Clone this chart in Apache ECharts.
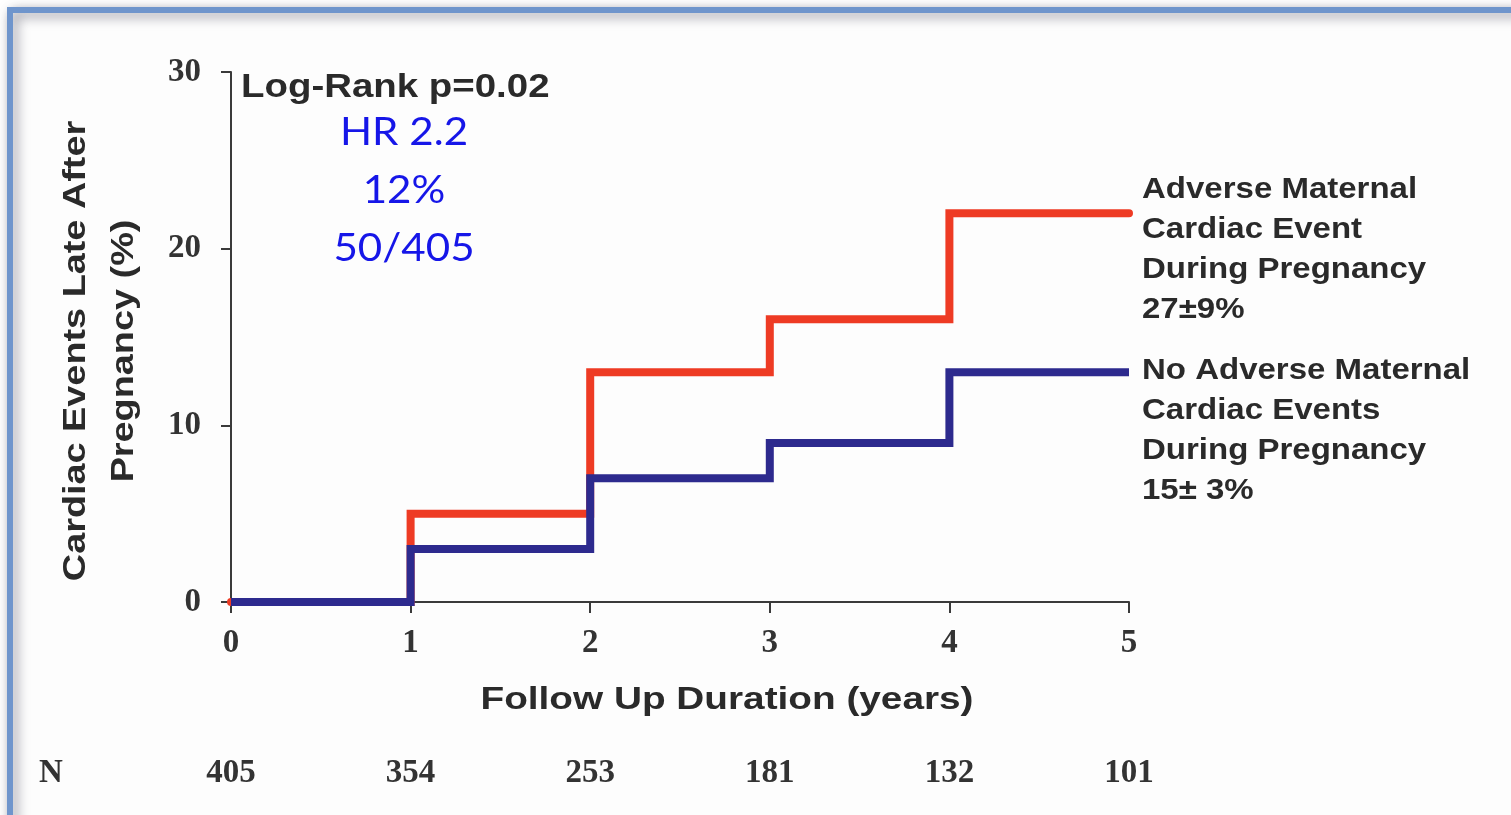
<!DOCTYPE html>
<html>
<head>
<meta charset="utf-8">
<style>
  html, body { margin: 0; padding: 0; background: #ffffff; }
  #chart { width: 1511px; height: 815px; }
</style>
<script src="https://cdn.jsdelivr.net/npm/echarts@6/dist/echarts.min.js"></script>
</head>
<body>
<div id="chart"></div>
<script>
// ---- data ----
const years = [0, 1, 2, 3, 4, 5];
const adverseEventPct = [0, 5, 13, 16, 22, 22];      // Adverse maternal cardiac event during pregnancy
const noAdverseEventPct = [0, 3, 7, 9, 13, 13];      // No adverse maternal cardiac events during pregnancy
const nAtRisk = ['405', '354', '253', '181', '132', '101'];
const yTickValues = [0, 10, 20, 30];
const xTickValues = [0, 1, 2, 3, 4, 5];
const legendAdverse = ['Adverse Maternal', 'Cardiac Event', 'During Pregnancy', '27\u00B19%'];
const legendNoAdverse = ['No Adverse Maternal', 'Cardiac Events', 'During Pregnancy', '15\u00B1 3%'];
const statsLines = ['HR 2.2', '12%', '50/405'];
const logRankText = 'Log-Rank p=0.02';
const yAxisTitle = ['Cardiac Events Late After', 'Pregnancy (%)'];
const xAxisTitle = 'Follow Up Duration (years)';

const SANS = '"Liberation Sans", Arial, sans-serif';
const SERIF = '"Liberation Serif", "Times New Roman", serif';
const RED = '#ee3b24';
const NAVY = '#2d2a8e';
const AXIS = '#3a3a3a';
const TEXT = '#2a2a2a';

const chart = echarts.init(document.getElementById('chart'), null, { renderer: 'canvas' });

const option = {
  animation: false,
  backgroundColor: '#ffffff',
  grid: { left: 231, right: 382, top: 72, bottom: 213, containLabel: false },
  xAxis: [
    {
      type: 'value', min: 0, max: 5, interval: 1,
      axisLine: { show: true, onZero: false, lineStyle: { color: AXIS, width: 2 } },
      axisTick: { show: true, length: 11, lineStyle: { color: AXIS, width: 2 } },
      splitLine: { show: false },
      axisLabel: {
        margin: 25, color: '#333',
        fontFamily: SERIF, fontWeight: 'bold', fontSize: 33,
        formatter: v => (xTickValues.indexOf(v) >= 0 ? String(v) : '')
      }
    },
    {
      type: 'value', min: 0, max: 5, interval: 1, position: 'bottom', offset: 153,
      axisLine: { show: false }, axisTick: { show: false }, splitLine: { show: false },
      axisLabel: {
        margin: 2, color: '#333',
        fontFamily: SERIF, fontWeight: 'bold', fontSize: 33,
        formatter: v => nAtRisk[years.indexOf(v)] || ''
      }
    }
  ],
  yAxis: {
    type: 'value', min: 0, max: 30, interval: 10,
    axisLine: { show: true, lineStyle: { color: AXIS, width: 2 } },
    axisTick: { show: true, length: 10, lineStyle: { color: AXIS, width: 2 } },
    splitLine: { show: false },
    axisLabel: {
      margin: 30, color: '#333',
      fontFamily: SERIF, fontWeight: 'bold', fontSize: 33,
      formatter: v => (yTickValues.indexOf(v) >= 0 ? String(v) : '')
    }
  },
  series: [
    {
      name: legendAdverse.join(' '),
      type: 'line', step: 'end', xAxisIndex: 0, z: 3,
      showSymbol: false, symbol: 'none',
      lineStyle: { color: RED, width: 8, cap: 'round', join: 'miter' },
      data: years.map((t, i) => [t, adverseEventPct[i]])
    },
    {
      name: legendNoAdverse.join(' '),
      type: 'line', step: 'end', xAxisIndex: 0, z: 4,
      showSymbol: false, symbol: 'none',
      lineStyle: { color: NAVY, width: 8, cap: 'butt', join: 'miter' },
      data: years.map((t, i) => [t, noAdverseEventPct[i]])
    }
  ],
  graphic: [
    {
      type: 'rect', z: -10, silent: true,
      shape: { x: 10, y: 10, width: 1700, height: 1000 },
      style: {
        fill: '#fdfdfd', stroke: '#6f95cc', lineWidth: 6,
        shadowBlur: 12, shadowColor: 'rgba(60,60,80,0.55)', shadowOffsetX: 4, shadowOffsetY: 4
      }
    },
    {
      type: 'text', x: 241, y: 88, scaleX: 1.13, z: 10,
      style: { text: logRankText, font: 'bold 34px ' + SANS, fill: TEXT, align: 'left', verticalAlign: 'middle' }
    },
    {
      type: 'text', x: 404, y: 190, scaleX: 1.08, z: 10,
      style: { text: statsLines.join('\n'), font: '39px Lato, "Open Sans", sans-serif', lineHeight: 58, fill: '#1616e8', align: 'center', verticalAlign: 'middle' }
    },
    {
      type: 'text', x: 1142, y: 170, scaleX: 1.1, z: 10,
      style: { text: legendAdverse.join('\n'), font: 'bold 30px ' + SANS, lineHeight: 40, fill: TEXT, align: 'left', verticalAlign: 'top' }
    },
    {
      type: 'text', x: 1142, y: 351, scaleX: 1.1, z: 10,
      style: { text: legendNoAdverse.join('\n'), font: 'bold 30px ' + SANS, lineHeight: 40, fill: TEXT, align: 'left', verticalAlign: 'top' }
    },
    {
      type: 'text', x: 100, y: 351, rotation: Math.PI / 2, scaleX: 1.22, z: 10,
      style: { text: yAxisTitle.join('\n'), font: 'bold 31px ' + SANS, lineHeight: 48, fill: TEXT, align: 'center', verticalAlign: 'middle' }
    },
    {
      type: 'text', x: 727, y: 700, scaleX: 1.25, z: 10,
      style: { text: xAxisTitle, font: 'bold 31px ' + SANS, fill: TEXT, align: 'center', verticalAlign: 'middle' }
    },
    {
      type: 'text', x: 51, y: 773, z: 10,
      style: { text: 'N', font: 'bold 33px ' + SERIF, fill: '#333', align: 'center', verticalAlign: 'middle' }
    }
  ]
};

chart.setOption(option);
</script>
</body>
</html>
